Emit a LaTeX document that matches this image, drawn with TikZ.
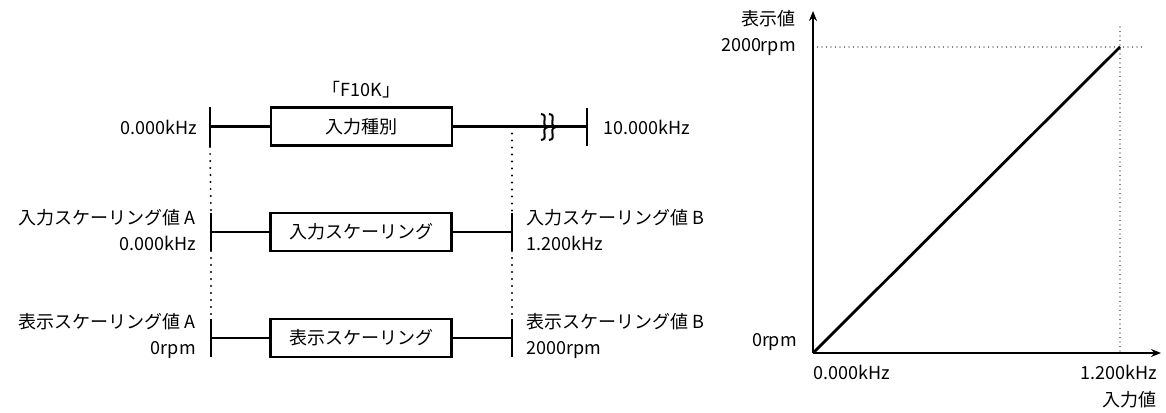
\documentclass[tikz,border=0pt]{standalone}
\usepackage{fontspec}
\setmainfont{Noto Sans CJK JP}
\usetikzlibrary{arrows.meta}
\begin{document}
\begin{tikzpicture}[x=1pt,y=-1pt,
  font=\fontsize{18}{26}\selectfont,
  box/.style={draw,line width=2.5pt,minimum width=181pt,minimum height=38pt,inner sep=0pt},
  ln/.style={line width=2.4pt},
  tick/.style={line width=2.8pt},
  dots/.style={line width=2.2pt,line cap=round,dash pattern=on 0pt off 7pt},
  thindots/.style={line width=1.3pt,line cap=round,dash pattern=on 0pt off 4.5pt},
  brk/.style={line width=2pt},
  lbl/.style={inner sep=0pt},
  axis/.style={line width=1.8pt,-{Stealth[length=10pt,width=8pt]}}]
\useasboundingbox (0,0) rectangle (1166,412);
% row 1
\node[box] (b1) at (361.5,126.5) {入力種別};
\node[lbl] (f10k) at (361.5,90) {「F10K」};
\coordinate (l1t) at (210,107); \coordinate (l1b) at (210,147); \coordinate (l1) at (210,126.5);
\coordinate (r1t) at (587,108); \coordinate (r1b) at (587,146); \coordinate (r1) at (587,126.5);
\coordinate (m1) at (512,126.5);
\draw[tick] (l1t) -- (l1b);
\draw[tick] (r1t) -- (r1b);
\draw[ln] (l1) -- (b1.west);
\draw[ln] (b1.east) -- (r1);
\foreach \x in {544,552}{
  \draw[brk] (\x-3,114) .. controls (\x+6,115) and (\x-5,125) .. (\x+4,127)
     .. controls (\x-5,129) and (\x+6,139) .. (\x-3,140);
}
\node[lbl,anchor=east] (a1) at (197,127) {0.000kHz};
\node[lbl,anchor=west] (e1) at (603,127) {10.000kHz};
% row 2
\node[box] (b2) at (361,232) {入力スケーリング};
\coordinate (l2t) at (211,213); \coordinate (l2b) at (211,251); \coordinate (l2) at (211,232);
\coordinate (r2t) at (512,213); \coordinate (r2b) at (512,251); \coordinate (r2) at (512,232);
\draw[tick] (l2t) -- (l2b);
\draw[tick] (r2t) -- (r2b);
\draw[ln] (l2) -- (b2.west);
\draw[ln] (b2.east) -- (r2);
\node[lbl,anchor=east,align=right] (a2) at (196,230) {入力スケーリング値 A\\0.000kHz};
\node[lbl,anchor=west,align=left] (e2) at (526,230) {入力スケーリング値 B\\1.200kHz};
% row 3
\node[box] (b3) at (361,338) {表示スケーリング};
\coordinate (l3t) at (211,319); \coordinate (l3b) at (211,357); \coordinate (l3) at (211,338);
\coordinate (r3t) at (512,319); \coordinate (r3b) at (512,357); \coordinate (r3) at (512,338);
\draw[tick] (l3t) -- (l3b);
\draw[tick] (r3t) -- (r3b);
\draw[ln] (l3) -- (b3.west);
\draw[ln] (b3.east) -- (r3);
\node[lbl,anchor=east,align=right] (a3) at (196,336) {表示スケーリング値 A\\0rpm};
\node[lbl,anchor=west,align=left] (e3) at (526,336) {表示スケーリング値 B\\2000rpm};
% dotted guides
\draw[dots] (l1b) -- (l2t);
\draw[dots] (l2b) -- (l3t);
\draw[dots] (m1) -- (r2t);
\draw[dots] (r2b) -- (r3t);
% graph
\coordinate (O) at (813,353);
\coordinate (ytip) at (813,11);
\coordinate (xtip) at (1161,353);
\coordinate (P) at (1120,47);
\coordinate (hd) at (1142,47);
\coordinate (hs) at (813,47);
\coordinate (vt) at (1120,27);
\coordinate (vb) at (1120,353);
\draw[thindots] (hs) -- (hd);
\draw[thindots] (vt) -- (vb);
\draw[axis] (O) -- (ytip);
\draw[axis] (O) -- (xtip);
\draw[line width=2.8pt] (O) -- (P);
\node[lbl,anchor=east] (yl) at (796,19) {表示値};
\node[lbl,anchor=east] (y2) at (796,47) {2000rpm};
\node[lbl,anchor=east] (y0) at (797,342) {0rpm};
\node[lbl,anchor=west] (x0) at (813,372) {0.000kHz};
\node[lbl,anchor=east] (x1) at (1157,372) {1.200kHz};
\node[lbl,anchor=east] (xl) at (1157,400) {入力値};
\end{tikzpicture}
\end{document}
